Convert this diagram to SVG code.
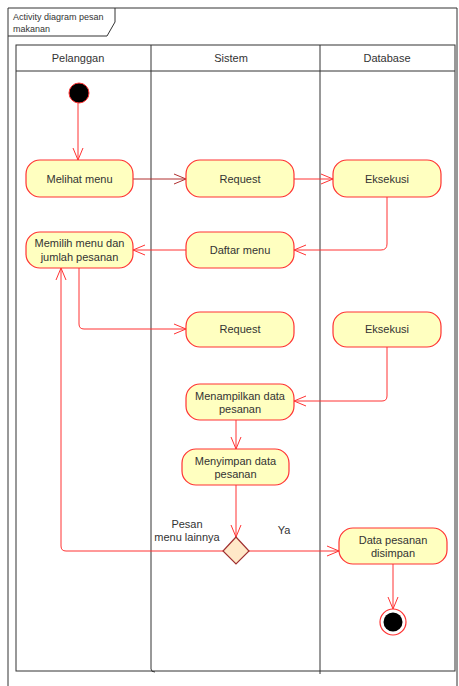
<svg xmlns="http://www.w3.org/2000/svg" width="459" height="686" viewBox="0 0 459 686">
<defs>
<marker id="arr" markerWidth="14" markerHeight="12" refX="13" refY="6" orient="auto" markerUnits="userSpaceOnUse">
<path d="M1,1 L13,6 L1,11" fill="none" stroke="#ff3333" stroke-width="1"/>
</marker>
<marker id="arrD" markerWidth="14" markerHeight="12" refX="13" refY="6" orient="auto" markerUnits="userSpaceOnUse">
<path d="M1,1 L13,6 L1,11" fill="none" stroke="#b03030" stroke-width="1"/>
</marker>
</defs>
<style>
.lane{fill:none;stroke:#333;stroke-width:1}
.act{fill:#ffffc0;stroke:#ff3333;stroke-width:1.2}
.t{font-family:"Liberation Sans",Arial,sans-serif;font-size:11px;fill:#333;text-anchor:middle}
.h{font-family:"Liberation Sans",Arial,sans-serif;font-size:11px;fill:#333;text-anchor:middle}
.c{fill:none;stroke:#ff3333;stroke-width:1}
</style>
<rect width="459" height="686" fill="#fff"/>
<g id="frame">
<path d="M8,690 L8,8 L457,8 L457,690" class="lane" fill="none"/>
<path d="M8,36 L107,36 L115,22 L115,8" class="lane"/>
<text x="13" y="20" font-family="Liberation Sans,Arial,sans-serif" font-size="9" fill="#333">Activity diagram pesan</text>
<text x="13" y="32" font-family="Liberation Sans,Arial,sans-serif" font-size="9" fill="#333">makanan</text>
</g>
<g id="lanes">
<rect x="16" y="45" width="439" height="626" class="lane"/>
<line x1="16" y1="71" x2="455" y2="71" class="lane"/>
<path d="M151,45 L151,669 Q151,672 155,672" class="lane"/>
<line x1="320" y1="45" x2="320" y2="674" class="lane"/>
<text x="78" y="62" class="h">Pelanggan</text>
<text x="231" y="62" class="h">Sistem</text>
<text x="387" y="62" class="h">Database</text>
</g>
<g id="connectors">
<line x1="78" y1="103" x2="78" y2="160" class="c" marker-end="url(#arr)"/>
<line x1="133" y1="179" x2="186" y2="179" fill="none" stroke="#b03030" stroke-width="1" marker-end="url(#arrD)"/>
<line x1="294" y1="179" x2="333" y2="179" class="c" marker-end="url(#arr)"/>
<path d="M387,197 L387,244 Q387,250 381,250 L294,250" class="c" marker-end="url(#arr)"/>
<line x1="186" y1="250" x2="133" y2="250" class="c" marker-end="url(#arr)"/>
<path d="M79,268 L79,324 Q79,329 84,329 L186,329" class="c" marker-end="url(#arr)"/>
<path d="M387,347 L387,396 Q387,401 382,401 L294,401" class="c" marker-end="url(#arr)"/>
<line x1="236" y1="420" x2="236" y2="449" class="c" marker-end="url(#arr)"/>
<line x1="236" y1="485" x2="236" y2="537" class="c" marker-end="url(#arr)"/>
<path d="M223,551 L66,551 Q61,551 61,546 L61,268" class="c" marker-end="url(#arr)"/>
<line x1="249" y1="551" x2="339" y2="551" class="c" marker-end="url(#arr)"/>
<line x1="393" y1="564" x2="393" y2="609" class="c" marker-end="url(#arr)"/>
<text x="187" y="528" class="t">Pesan</text>
<text x="187" y="541" class="t">menu lainnya</text>
<text x="284" y="534" class="t">Ya</text>
</g>
<g id="start"><circle cx="79" cy="93" r="10" fill="#000" stroke="#ff3333" stroke-width="1"/></g>
<g id="melihat"><rect x="26" y="160" width="107" height="37" rx="14" class="act"/><text x="79.5" y="183" class="t">Melihat menu</text></g>
<g id="request1"><rect x="186" y="160" width="108" height="37" rx="14" class="act"/><text x="240" y="183" class="t">Request</text></g>
<g id="eksekusi1"><rect x="333" y="160" width="108" height="37" rx="14" class="act"/><text x="387" y="183" class="t">Eksekusi</text></g>
<g id="memilih"><rect x="26" y="232" width="107" height="36" rx="14" class="act"/><text x="79.5" y="247" class="t">Memilih menu dan</text><text x="79.5" y="261" class="t">jumlah pesanan</text></g>
<g id="daftar"><rect x="186" y="232" width="108" height="36" rx="14" class="act"/><text x="240" y="254" class="t">Daftar menu</text></g>
<g id="request2"><rect x="186" y="312" width="108" height="35" rx="14" class="act"/><text x="240" y="333" class="t">Request</text></g>
<g id="eksekusi2"><rect x="333" y="312" width="108" height="35" rx="14" class="act"/><text x="387" y="333" class="t">Eksekusi</text></g>
<g id="menampilkan"><rect x="186" y="384" width="108" height="36" rx="14" class="act"/><text x="240" y="400" class="t">Menampilkan data</text><text x="240" y="413" class="t">pesanan</text></g>
<g id="menyimpan"><rect x="182" y="449" width="107" height="36" rx="14" class="act"/><text x="235.5" y="465" class="t">Menyimpan data</text><text x="235.5" y="478" class="t">pesanan</text></g>
<g id="decision"><polygon points="236,537 249,551 236,564 223,551" fill="#ffe8c8" stroke="#a03030" stroke-width="1.2"/></g>
<g id="disimpan"><rect x="339" y="528" width="108" height="36" rx="14" class="act"/><text x="393" y="544" class="t">Data pesanan</text><text x="393" y="557" class="t">disimpan</text></g>
<g id="end"><circle cx="393" cy="622" r="13" fill="#fff" stroke="#ff3333" stroke-width="1.2"/><circle cx="393" cy="622" r="9.5" fill="#000"/></g>
</svg>
